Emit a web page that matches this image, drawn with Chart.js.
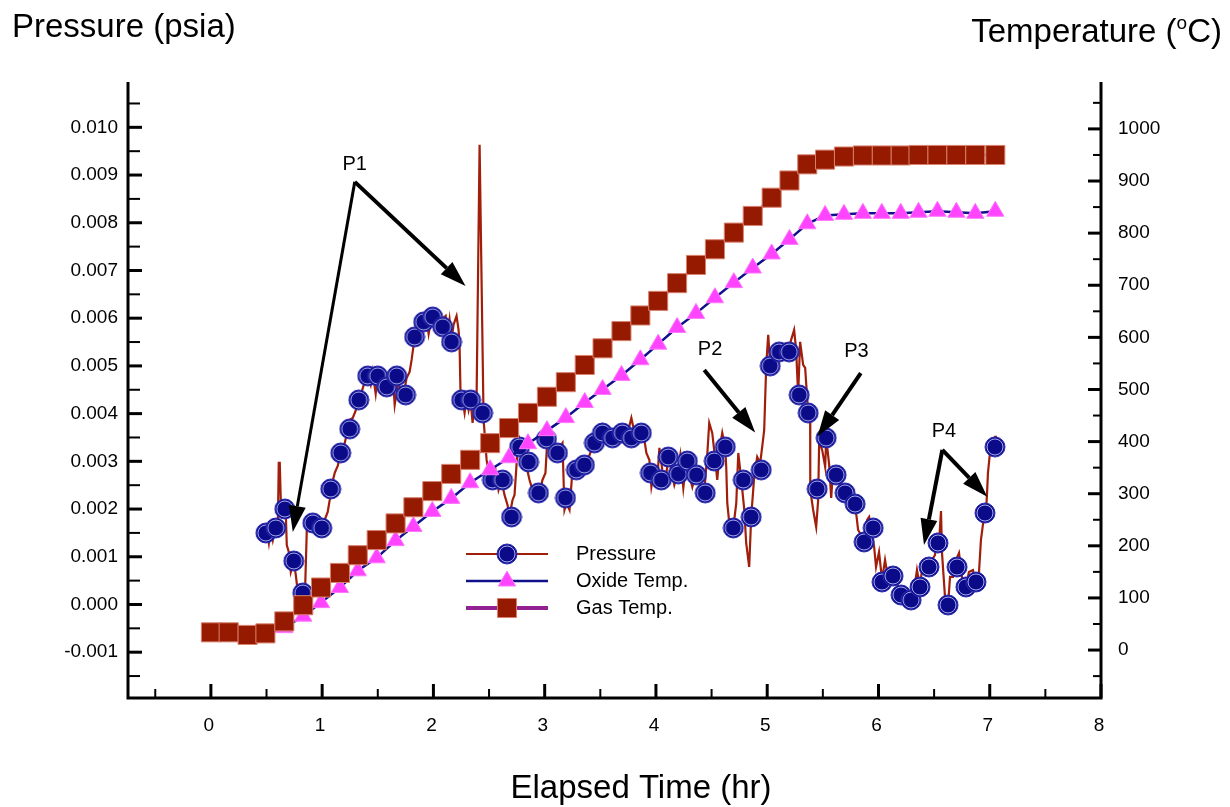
<!DOCTYPE html>
<html>
<head>
<meta charset="utf-8">
<title>Pressure and temperature vs elapsed time</title>
<script src="https://cdn.jsdelivr.net/npm/chart.js@4.4.0/dist/chart.umd.min.js"></script>
<style>
  html, body { margin: 0; padding: 0; background: #fff; }
  #wrap { width: 1230px; height: 807px; }
</style>
</head>
<body>
<div id="wrap"><canvas id="chart" width="1230" height="807"></canvas></div>
<script>
// ---- data ----
// pressure trace: [elapsed time (hr), pressure (psia)]
const pressureTrace = [
  [0.476,0.001436],[0.503,0.001562],[0.521,0.001289],[0.539,0.001604],[0.557,0.001352],[0.583,0.001646],
  [0.601,0.001562],[0.610,0.002966],[0.619,0.002966],[0.628,0.002191],[0.655,0.002065],[0.673,0.001939],
  [0.682,0.001247],[0.700,0.001101],[0.718,0.000681],[0.745,0.000912],[0.763,0.000618],[0.781,0.000262],
  [0.826,0.000136],[0.844,0.000094],[0.862,0.001562],[0.889,0.001730],[0.925,0.001688],[0.961,0.001604],
  [0.996,0.001562],[1.023,0.001771],[1.050,0.001939],[1.068,0.002191],[1.077,0.002421],[1.113,0.002757],
  [1.140,0.002904],[1.167,0.003176],[1.203,0.003386],[1.230,0.003658],[1.248,0.003868],[1.275,0.003910],
  [1.311,0.004119],[1.329,0.004287],[1.355,0.004455],[1.382,0.004665],[1.409,0.004790],[1.436,0.004602],
  [1.454,0.004874],[1.481,0.004413],[1.499,0.004790],[1.526,0.004539],[1.553,0.004748],[1.580,0.004455],
  [1.607,0.004748],[1.634,0.004790],[1.652,0.004182],[1.679,0.004602],[1.706,0.004539],[1.732,0.004413],
  [1.759,0.004748],[1.786,0.004874],[1.804,0.005126],[1.822,0.005440],[1.840,0.005608],[1.867,0.005797],
  [1.885,0.005629],[1.912,0.005922],[1.939,0.006006],[1.957,0.005671],[1.984,0.006027],[2.011,0.005797],
  [2.038,0.005922],[2.065,0.005755],[2.092,0.006006],[2.110,0.006048],[2.127,0.005629],[2.145,0.005964],
  [2.163,0.005545],[2.181,0.005860],[2.208,0.006048],[2.226,0.005755],[2.235,0.005440],[2.244,0.004371],
  [2.262,0.004287],[2.280,0.004015],[2.298,0.004329],[2.316,0.004078],[2.334,0.004287],[2.352,0.003805],
  [2.370,0.004245],[2.388,0.004329],[2.415,0.009633],[2.451,0.003868],[2.460,0.003595],[2.478,0.003029],
  [2.504,0.002652],[2.531,0.002610],[2.558,0.002820],[2.585,0.002400],[2.612,0.002610],[2.639,0.002296],
  [2.666,0.002086],[2.684,0.001855],[2.711,0.002191],[2.729,0.002296],[2.756,0.003239],[2.774,0.003449],
  [2.801,0.003134],[2.837,0.002883],[2.864,0.002610],[2.890,0.002400],[2.917,0.002505],[2.953,0.002338],
  [2.980,0.002610],[3.007,0.002757],[3.025,0.003512],[3.052,0.003344],[3.088,0.003239],[3.115,0.003176],
  [3.142,0.003323],[3.160,0.003386],[3.178,0.001981],[3.196,0.002128],[3.223,0.001981],[3.250,0.002820],
  [3.285,0.002820],[3.312,0.002862],[3.339,0.002904],[3.366,0.002987],[3.393,0.003071],[3.420,0.003239],
  [3.447,0.003386],[3.474,0.003553],[3.501,0.003658],[3.519,0.003763],[3.546,0.003595],[3.573,0.003449],
  [3.609,0.003491],[3.636,0.003616],[3.662,0.003449],[3.698,0.003595],[3.725,0.003491],[3.752,0.003658],
  [3.779,0.003910],[3.806,0.003616],[3.833,0.003491],[3.869,0.003595],[3.896,0.003449],[3.914,0.003176],
  [3.941,0.003029],[3.959,0.002463],[3.986,0.002820],[4.013,0.002652],[4.031,0.003281],[4.057,0.002820],
  [4.084,0.002547],[4.111,0.003092],[4.138,0.002820],[4.165,0.002505],[4.192,0.002736],[4.219,0.003134],
  [4.246,0.002442],[4.273,0.003008],[4.300,0.002715],[4.327,0.002463],[4.354,0.002715],[4.381,0.002610],
  [4.408,0.002463],[4.434,0.002358],[4.461,0.003134],[4.479,0.003805],[4.506,0.003595],[4.533,0.003029],
  [4.551,0.002610],[4.578,0.003344],[4.596,0.003595],[4.623,0.003281],[4.632,0.002862],[4.641,0.002128],
  [4.659,0.001709],[4.686,0.001499],[4.704,0.001771],[4.722,0.002128],[4.740,0.003176],[4.767,0.002610],
  [4.794,0.001981],[4.811,0.001289],[4.838,0.000786],[4.856,0.001834],[4.883,0.002673],[4.910,0.003092],
  [4.937,0.002966],[4.955,0.003302],[4.973,0.003658],[4.991,0.005000],[5.009,0.005650],[5.027,0.005021],
  [5.054,0.005335],[5.081,0.005168],[5.108,0.005377],[5.135,0.005231],[5.162,0.005440],[5.189,0.005293],
  [5.215,0.005545],[5.242,0.005755],[5.260,0.005335],[5.278,0.004392],[5.296,0.005503],[5.323,0.005021],
  [5.341,0.004958],[5.368,0.004015],[5.386,0.003868],[5.387,0.002400],[5.413,0.001981],[5.440,0.001625],
  [5.458,0.002191],[5.467,0.003428],[5.494,0.003239],[5.521,0.002883],[5.530,0.003491],[5.557,0.002925],
  [5.575,0.002233],[5.592,0.002820],[5.619,0.002715],[5.646,0.002610],[5.673,0.002400],[5.700,0.002338],
  [5.727,0.002254],[5.754,0.002191],[5.781,0.002107],[5.799,0.001918],[5.817,0.001562],[5.844,0.001457],
  [5.871,0.001310],[5.898,0.001771],[5.916,0.001834],[5.934,0.001604],[5.961,0.001205],[5.978,0.000786],
  [6.005,0.001101],[6.032,0.000514],[6.059,0.000933],[6.086,0.000556],[6.113,0.000681],[6.140,0.000598],
  [6.167,0.000451],[6.194,0.000220],[6.221,0.000304],[6.257,0.000136],[6.293,0.000094],[6.320,0.000304],
  [6.346,0.000723],[6.373,0.000367],[6.391,0.000723],[6.427,0.000723],[6.454,0.000786],[6.481,0.000933],
  [6.508,0.001038],[6.526,0.001415],[6.544,0.001289],[6.562,0.001960],[6.571,0.001080],[6.598,0.000157],
  [6.625,-0.000031],[6.643,0.000577],[6.670,0.000577],[6.697,0.000933],[6.724,0.001080],[6.750,0.000577],
  [6.786,0.000367],[6.813,0.000681],[6.849,0.000723],[6.876,0.000472],[6.903,0.000660],[6.921,0.001352],
  [6.948,0.001834],[6.966,0.001918],[6.975,0.002296],[6.984,0.002757],[7.002,0.003176],[7.029,0.003449],
  [7.047,0.003512],[7.065,0.003512]
];

// sampled pressure points drawn as symbols
const pressureMarks = [
  [0.494,0.001499],[0.583,0.001604],[0.664,0.002002],[0.745,0.000912],[0.826,0.000241],[0.916,0.001709],
  [0.996,0.001604],[1.077,0.002421],[1.167,0.003176],[1.248,0.003679],[1.329,0.004287],[1.409,0.004790],
  [1.499,0.004790],[1.580,0.004560],[1.670,0.004790],[1.750,0.004392],[1.831,0.005608],[1.912,0.005922],
  [1.993,0.006027],[2.083,0.005818],[2.163,0.005503],[2.253,0.004287],[2.334,0.004287],[2.442,0.004015],
  [2.531,0.002610],[2.621,0.002610],[2.702,0.001834],[2.774,0.003302],[2.855,0.002987],[2.944,0.002338],
  [3.016,0.003470],[3.115,0.003176],[3.187,0.002233],[3.285,0.002820],[3.357,0.002925],[3.447,0.003386],
  [3.519,0.003595],[3.609,0.003491],[3.698,0.003595],[3.779,0.003491],[3.869,0.003595],[3.950,0.002757],
  [4.048,0.002610],[4.111,0.003092],[4.201,0.002736],[4.282,0.003008],[4.363,0.002715],[4.443,0.002338],
  [4.524,0.003008],[4.623,0.003302],[4.695,0.001604],[4.785,0.002610],[4.856,0.001834],[4.946,0.002820],
  [5.027,0.005000],[5.108,0.005293],[5.198,0.005293],[5.287,0.004392],[5.368,0.004015],[5.449,0.002421],
  [5.530,0.003491],[5.619,0.002715],[5.700,0.002338],[5.790,0.002107],[5.871,0.001310],[5.952,0.001604],
  [6.032,0.000472],[6.131,0.000598],[6.203,0.000199],[6.293,0.000094],[6.373,0.000367],[6.454,0.000786],
  [6.535,0.001289],[6.625,-0.000010],[6.706,0.000786],[6.786,0.000367],[6.876,0.000472],[6.957,0.001918],
  [7.047,0.003302]
];

// temperatures, one sample every ~10 min
const tempTime = [0.00,0.16,0.33,0.49,0.66,0.83,0.99,1.16,1.32,1.49,1.66,1.82,1.99,2.16,2.33,2.51,
  2.68,2.85,3.02,3.19,3.36,3.52,3.69,3.86,4.02,4.19,4.36,4.53,4.70,4.87,5.04,5.20,5.36,5.52,5.69,5.86,
  6.03,6.20,6.36,6.53,6.70,6.87,7.05];
const oxideTemp = [30,30,29,31,43,65,91,120,152,177,210,237,266,291,321,346,369,396,421,446,475,500,
  527,557,587,619,646,676,705,733,760,788,818,834,836,838,838,838,840,842,840,838,842];
const gasTemp = [34,34,29,32,55,86,120,148,182,211,243,274,305,338,365,397,426,455,486,514,547,579,
  612,642,670,704,739,769,801,833,868,901,932,941,947,949,949,949,950,950,950,950,950];

const timeTicks = [0, 1, 2, 3, 4, 5, 6, 7, 8];
const pressureTicks = [-0.001, 0, 0.001, 0.002, 0.003, 0.004, 0.005, 0.006, 0.007, 0.008, 0.009, 0.010];
const tempTicks = [0, 100, 200, 300, 400, 500, 600, 700, 800, 900, 1000];

// callouts, placed in data coordinates
const callouts = [
  { text: 'P1', at: [1.293, 0.009214], arrows: [
      { from: [1.293, 0.008857], to: [0.736, 0.00152], w: 3 },
      { from: [1.293, 0.008857], to: [2.289, 0.006677], w: 4 } ] },
  { text: 'P2', at: [4.486, 0.00535], arrows: [
      { from: [4.434, 0.004916], to: [4.892, 0.003602], w: 4 } ] },
  { text: 'P3', at: [5.802, 0.0053], arrows: [
      { from: [5.841, 0.004847], to: [5.452, 0.003518], w: 4 } ] },
  { text: 'P4', at: [6.589, 0.003623], arrows: [
      { from: [6.574, 0.003239], to: [6.409, 0.001247], w: 4 },
      { from: [6.574, 0.003239], to: [6.978, 0.00226], w: 4 } ] }
];

const FONT = '"Liberation Sans", Arial, sans-serif';
const PRESSURE_LINE = '#a01e0a';
const OXIDE_LINE = '#10108c';
const GAS_LINE = '#922292';

// blue dot with a pale inner ring, like the original symbol
function makeDot(r) {
  const s = Math.ceil(r * 2 + 2);
  const c = document.createElement('canvas');
  c.width = s; c.height = s;
  const g = c.getContext('2d');
  g.beginPath(); g.arc(s / 2, s / 2, r, 0, Math.PI * 2);
  g.fillStyle = '#0b0b8a'; g.fill();
  g.lineWidth = 1; g.strokeStyle = '#2a2ab4'; g.stroke();
  g.beginPath(); g.arc(s / 2, s / 2, r - 2, 0, Math.PI * 2);
  g.lineWidth = 1; g.strokeStyle = '#a9adef'; g.stroke();
  return c;
}
const dot = makeDot(10);

const toXY = arr => arr.map(p => ({ x: p[0], y: p[1] }));

// axes, ticks, labels, titles, legend and callouts
const decorPlugin = {
  id: 'decor',
  afterDatasetsDraw(chart) {
    const { ctx, chartArea: a } = chart;
    const x = chart.scales.x, yP = chart.scales.yP, yT = chart.scales.yT;
    ctx.save();
    ctx.strokeStyle = '#000';
    ctx.fillStyle = '#000';
    ctx.lineCap = 'butt';

    // frame: left, bottom, right
    ctx.lineWidth = 3;
    ctx.beginPath();
    ctx.moveTo(a.left, a.top); ctx.lineTo(a.left, a.bottom);
    ctx.lineTo(a.right, a.bottom); ctx.lineTo(a.right, a.top);
    ctx.stroke();

    // inward tick marks, majors every step, minors at half steps
    function ticks(scale, step, draw) {
      const h = step / 2;
      for (let k = Math.ceil(scale.min / h - 1e-6); k * h <= scale.max + 1e-9; k++) {
        draw(scale.getPixelForValue(k * h), k % 2 === 0);
      }
    }
    ticks(x, 1, (px, major) => {
      ctx.lineWidth = major ? 3 : 2;
      ctx.beginPath(); ctx.moveTo(px, a.bottom); ctx.lineTo(px, a.bottom - (major ? 14 : 9)); ctx.stroke();
    });
    ticks(yP, 0.001, (py, major) => {
      ctx.lineWidth = major ? 3 : 2;
      ctx.beginPath(); ctx.moveTo(a.left, py); ctx.lineTo(a.left + (major ? 14 : 12), py); ctx.stroke();
    });
    ticks(yT, 100, (py, major) => {
      ctx.lineWidth = major ? 3 : 2;
      ctx.beginPath(); ctx.moveTo(a.right, py); ctx.lineTo(a.right - (major ? 13 : 8), py); ctx.stroke();
    });

    // tick labels
    ctx.font = '19px ' + FONT;
    ctx.textBaseline = 'middle';
    ctx.textAlign = 'center';
    timeTicks.forEach(v => ctx.fillText(String(v), x.getPixelForValue(v) - 2, a.bottom + 28));
    ctx.textAlign = 'right';
    pressureTicks.forEach(v => ctx.fillText(v.toFixed(3), a.left - 10, yP.getPixelForValue(v)));
    ctx.textAlign = 'left';
    tempTicks.forEach(v => ctx.fillText(String(v), a.right + 17, yT.getPixelForValue(v)));

    // axis titles
    const big = '33px ' + FONT, small = '19px ' + FONT;
    ctx.font = big;
    ctx.textAlign = 'left';
    ctx.fillText('Pressure (psia)', 12, 28);
    ctx.textAlign = 'center';
    ctx.fillText('Elapsed Time (hr)', 641, 789);
    const t1 = 'Temperature (', t2 = 'o', t3 = 'C)';
    const w1 = ctx.measureText(t1).width, w3 = ctx.measureText(t3).width;
    ctx.font = small;
    const w2 = ctx.measureText(t2).width;
    const tx = 1222 - (w1 + w2 + w3);
    ctx.textAlign = 'left';
    ctx.font = big;
    ctx.fillText(t1, tx, 33);
    ctx.font = small;
    ctx.fillText(t2, tx + w1, 24);
    ctx.font = big;
    ctx.fillText(t3, tx + w1 + w2, 33);

    // legend
    const lx = a.left + 338, ly = a.top + 472;
    const rows = [
      { label: 'Pressure', line: PRESSURE_LINE, lw: 2, ds: 2 },
      { label: 'Oxide Temp.', line: OXIDE_LINE, lw: 2.5, ds: 1 },
      { label: 'Gas Temp.', line: GAS_LINE, lw: 4, ds: 0 }
    ];
    ctx.font = '20px ' + FONT;
    rows.forEach((r, i) => {
      const yy = ly + i * 27;
      ctx.strokeStyle = r.line; ctx.lineWidth = r.lw;
      ctx.beginPath(); ctx.moveTo(lx, yy); ctx.lineTo(lx + 82, yy); ctx.stroke();
      const d = chart.data.datasets[r.ds];
      const bw = d.pointBorderWidth || 0;
      ctx.fillStyle = d.pointBackgroundColor || '#000';
      ctx.strokeStyle = d.pointBorderColor || '#000';
      ctx.lineWidth = bw;
      Chart.helpers.drawPoint(ctx, {
        pointStyle: d.pointStyle, radius: d.pointRadius, rotation: 0, borderWidth: bw
      }, lx + 41, yy);
      ctx.fillStyle = '#000';
      ctx.textAlign = 'left';
      ctx.fillText(r.label, lx + 110, yy);
    });

    // callouts
    ctx.fillStyle = '#000';
    ctx.strokeStyle = '#000';
    ctx.font = '20px ' + FONT;
    ctx.textAlign = 'center';
    callouts.forEach(c => {
      ctx.fillText(c.text, x.getPixelForValue(c.at[0]), yP.getPixelForValue(c.at[1]));
      c.arrows.forEach(ar => {
        const x0 = x.getPixelForValue(ar.from[0]), y0 = yP.getPixelForValue(ar.from[1]);
        const x1 = x.getPixelForValue(ar.to[0]), y1 = yP.getPixelForValue(ar.to[1]);
        const ang = Math.atan2(y1 - y0, x1 - x0);
        const hl = 26, hw = 8.5;
        const bx = x1 - hl * Math.cos(ang), by = y1 - hl * Math.sin(ang);
        ctx.lineWidth = ar.w;
        ctx.beginPath(); ctx.moveTo(x0, y0); ctx.lineTo(bx, by); ctx.stroke();
        ctx.beginPath();
        ctx.moveTo(x1, y1);
        ctx.lineTo(bx + hw * Math.sin(ang), by - hw * Math.cos(ang));
        ctx.lineTo(bx - hw * Math.sin(ang), by + hw * Math.cos(ang));
        ctx.closePath(); ctx.fill();
      });
    });
    ctx.restore();
  }
};

new Chart(document.getElementById('chart'), {
  type: 'scatter',
  data: {
    datasets: [
      {
        label: 'Gas Temp.',
        data: tempTime.map((t, i) => ({ x: t, y: gasTemp[i] })),
        yAxisID: 'yT',
        showLine: true,
        borderColor: GAS_LINE,
        borderWidth: 3,
        pointStyle: 'rect',
        pointRadius: 13.5,
        pointBackgroundColor: '#961a00',
        pointBorderColor: '#d9826f',
        pointBorderWidth: 1,
        order: 1
      },
      {
        label: 'Oxide Temp.',
        data: tempTime.map((t, i) => ({ x: t, y: oxideTemp[i] })),
        yAxisID: 'yT',
        showLine: true,
        borderColor: OXIDE_LINE,
        borderWidth: 2.5,
        pointStyle: 'triangle',
        pointRadius: 10,
        pointBackgroundColor: '#ff44ff',
        pointBorderColor: '#ff77ff',
        pointBorderWidth: 1,
        order: 2
      },
      {
        label: 'Pressure',
        data: toXY(pressureMarks),
        yAxisID: 'yP',
        showLine: false,
        pointStyle: dot,
        pointRadius: 10,
        order: 3
      },
      {
        label: 'Pressure trace',
        data: toXY(pressureTrace),
        yAxisID: 'yP',
        showLine: true,
        borderColor: PRESSURE_LINE,
        borderWidth: 2.2,
        pointRadius: 0,
        order: 4
      }
    ]
  },
  options: {
    responsive: false,
    devicePixelRatio: 1,
    animation: false,
    events: [],
    layout: { padding: { left: 128, right: 129, top: 82, bottom: 109 } },
    plugins: {
      legend: { display: false },
      tooltip: { enabled: false }
    },
    scales: {
      x: { type: 'linear', min: -0.745, max: 8, display: false },
      yP: { type: 'linear', position: 'left', min: -0.00196, max: 0.01095, display: false },
      yT: { type: 'linear', position: 'right', min: -92, max: 1090, display: false }
    }
  },
  plugins: [decorPlugin]
});
</script>
</body>
</html>
